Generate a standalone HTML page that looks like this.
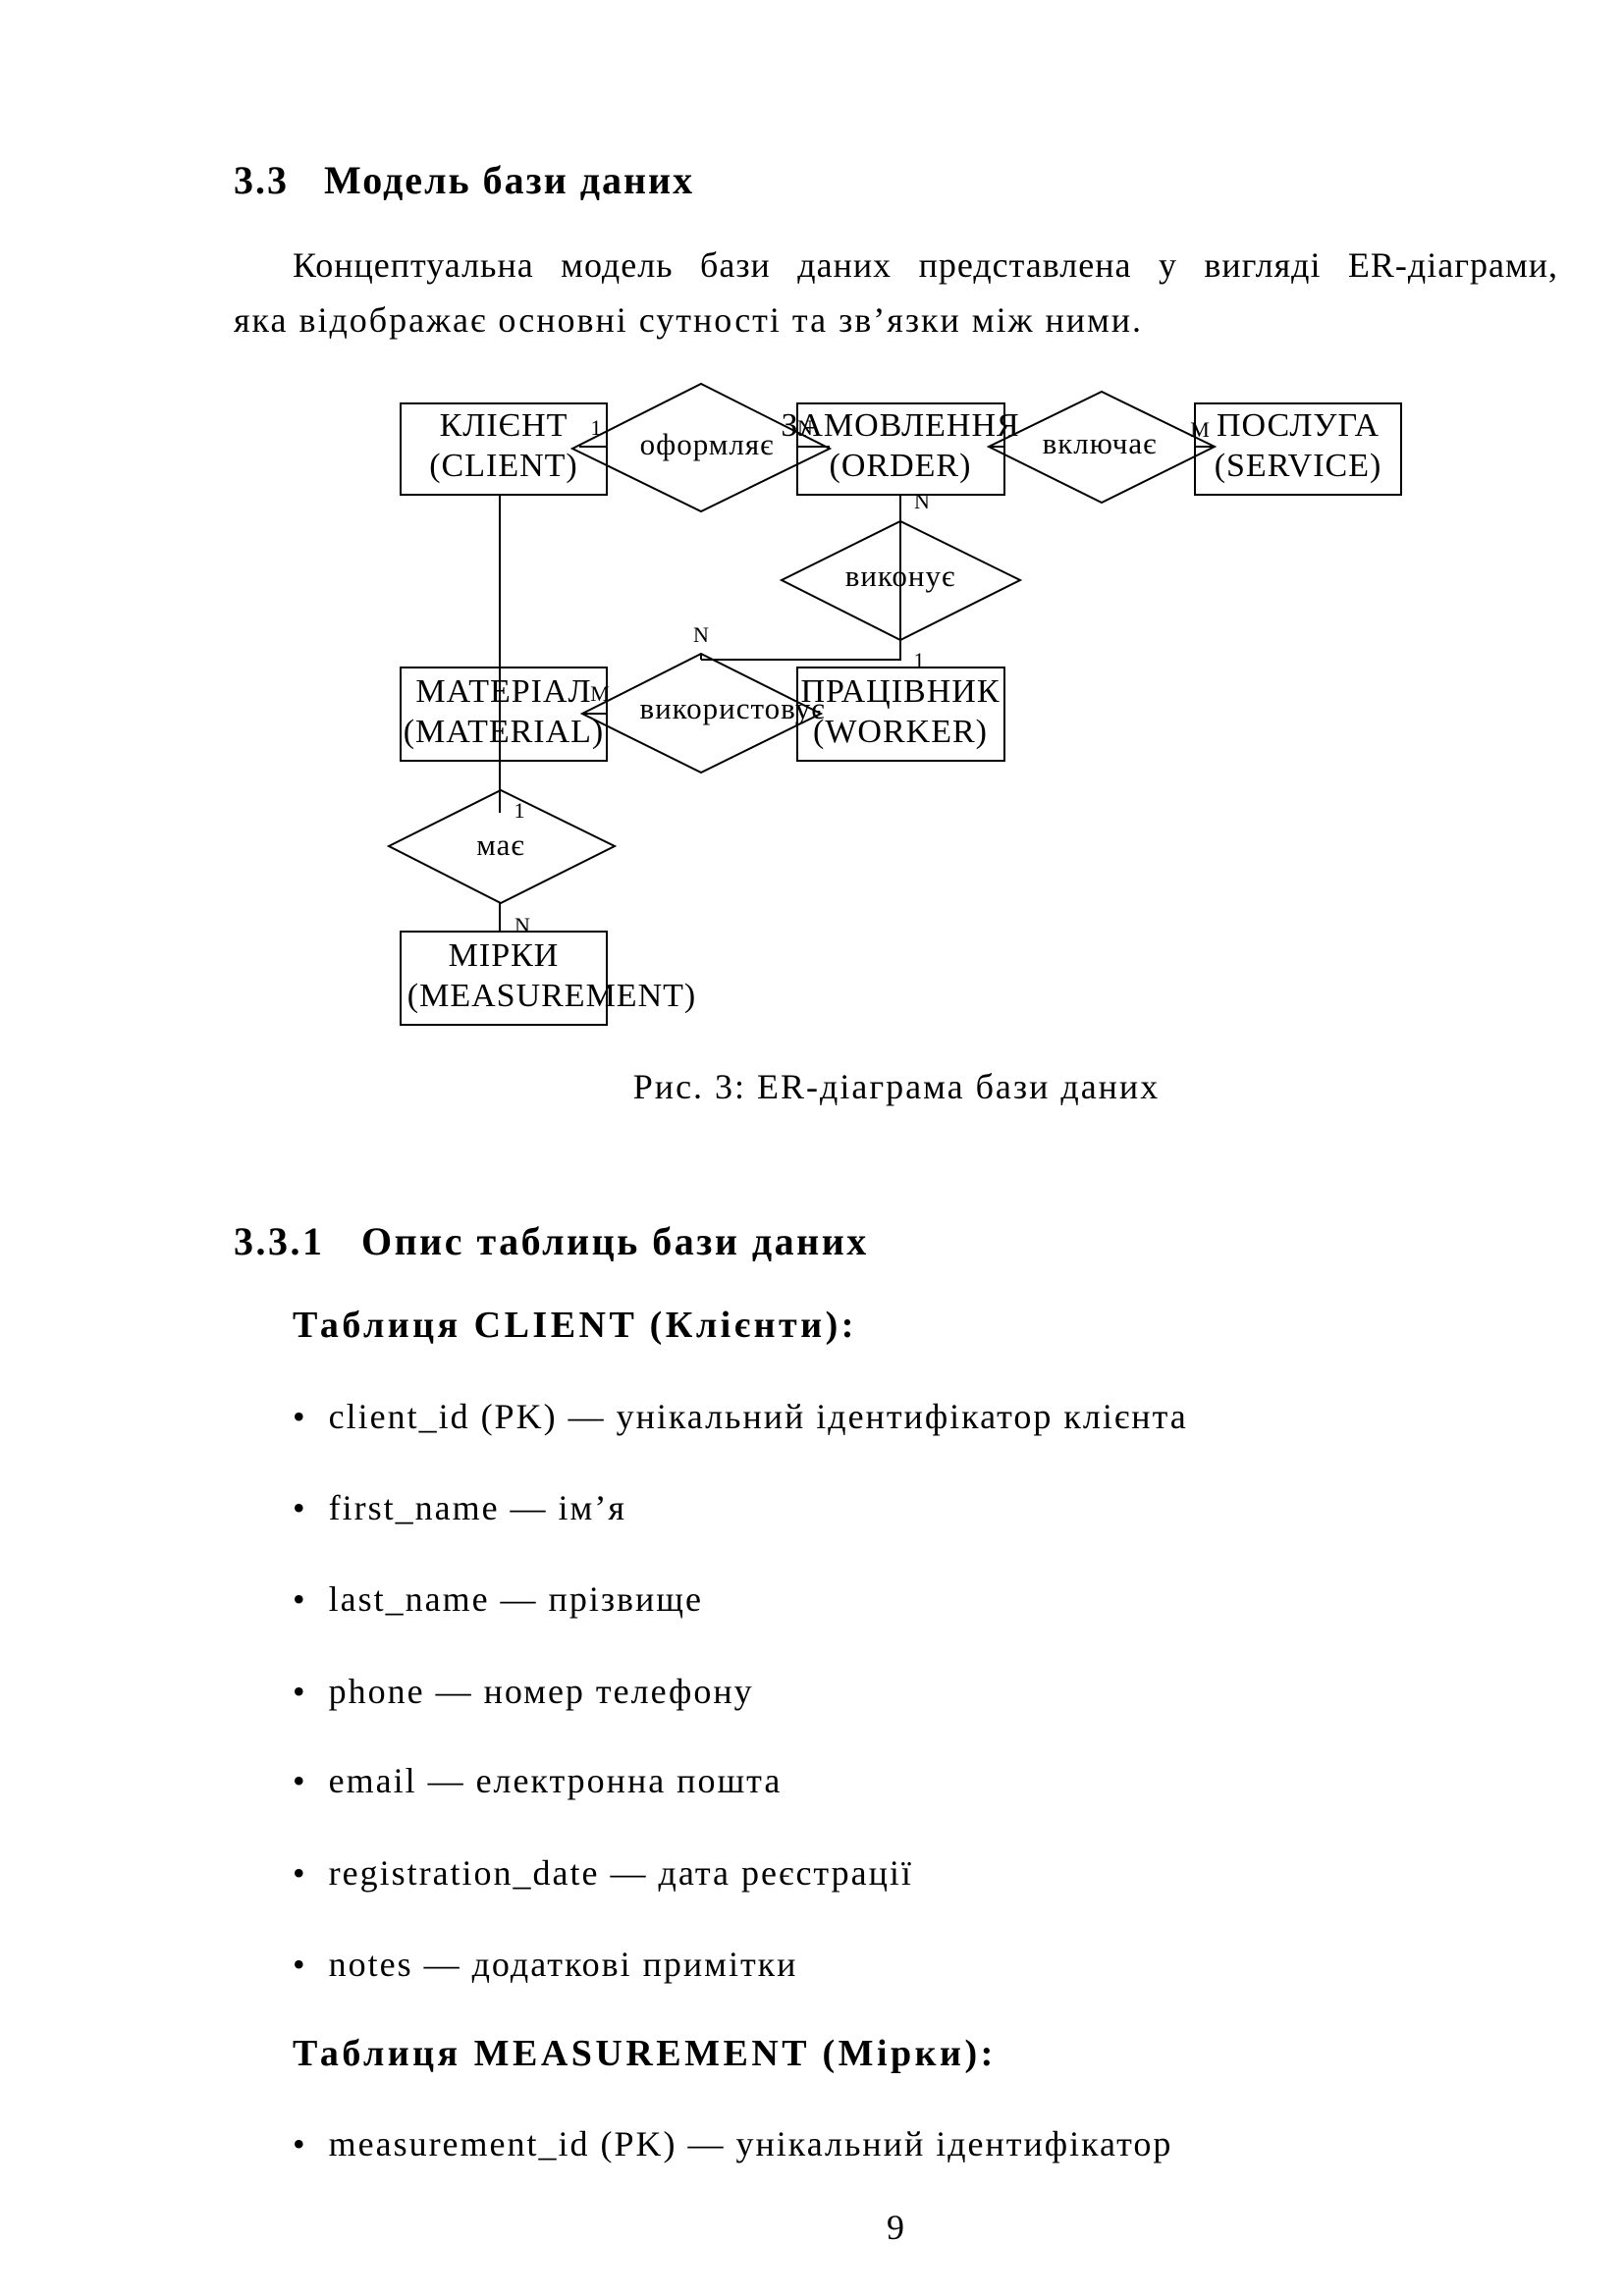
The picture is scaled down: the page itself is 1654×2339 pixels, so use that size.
<!DOCTYPE html>
<html><head><meta charset="utf-8"><style>
body{margin:0;background:#fff;}
#p{position:relative;width:1654px;height:2339px;overflow:hidden;font-family:"Liberation Serif","Noto Serif CJK SC",serif;color:#000;}
.t{position:absolute;white-space:nowrap;font-size:36px;line-height:36px;letter-spacing:2px;}
.b{font-weight:bold;font-size:38px;line-height:38px;letter-spacing:3.5px;}
svg text{font-family:"Liberation Serif",serif;}
</style></head><body><div id="p">
<div class="t b" style="left:238px;top:164px;font-size:40px;line-height:40px;letter-spacing:2px;">3.3&nbsp;&nbsp;&nbsp;Модель бази даних</div>
<div class="t" style="left:298px;top:252px;width:1289px;text-align:justify;text-align-last:justify;letter-spacing:1px;">Концептуальна модель бази даних представлена у вигляді ER-діаграми,</div>
<div class="t" style="left:238px;top:308px;">яка відображає основні сутності та зв’язки між ними.</div>

<svg style="position:absolute;left:0;top:0" width="1654" height="1100" stroke="#000" stroke-width="2" fill="none">
<rect x="408" y="411" width="210" height="93"/>
<rect x="812" y="411" width="211" height="93"/>
<rect x="1217" y="411" width="210" height="93"/>
<rect x="408" y="680" width="210" height="95"/>
<rect x="812" y="680" width="211" height="95"/>
<rect x="408" y="949" width="210" height="95"/>
<polygon points="583,457 714,391 845,457 714,521"/>
<polygon points="1007,455 1122,399 1237,455 1122,512"/>
<polygon points="796,591 917,531 1039,591 917,652"/>
<polygon points="593,727 714,666 836,727 714,787"/>
<polygon points="396,862 510,805 626,862 510,920"/>
<line x1="509" y1="504" x2="509" y2="828"/>
<line x1="509" y1="920" x2="509" y2="949"/>
<line x1="917" y1="504" x2="917" y2="673"/>
<line x1="714" y1="672" x2="917" y2="672"/>
<line x1="714" y1="666" x2="714" y2="672"/>
<line x1="590" y1="455" x2="618" y2="455"/>
<line x1="812" y1="455" x2="845" y2="455"/>
<line x1="1007" y1="455" x2="1023" y2="455"/>
<line x1="1217" y1="455" x2="1237" y2="455"/>
<line x1="593" y1="727" x2="618" y2="727"/>
<g stroke="none" fill="#000" font-size="34" letter-spacing="1" text-anchor="middle">
<text x="513" y="444">КЛІЄНТ</text><text x="513" y="485">(CLIENT)</text>
<text x="917" y="444">ЗАМОВЛЕННЯ</text><text x="917" y="485">(ORDER)</text>
<text x="1322" y="444">ПОСЛУГА</text><text x="1322" y="485">(SERVICE)</text>
<text x="513" y="715">МАТЕРІАЛ</text><text x="513" y="756">(MATERIAL)</text>
<text x="917" y="715">ПРАЦІВНИК</text><text x="917" y="756">(WORKER)</text>
<text x="513" y="984">МІРКИ</text><text x="562" y="1025">(MEASUREMENT)</text>
</g>
<g stroke="none" fill="#000" font-size="31" letter-spacing="1" text-anchor="middle">
<text x="720" y="463">оформляє</text>
<text x="1120" y="462">включає</text>
<text x="917" y="597">виконує</text>
<text x="746" y="732">використовує</text>
<text x="510" y="871">має</text>
</g>
<g stroke="none" fill="#000" font-size="22" text-anchor="middle">
<text x="607" y="443">1</text><text x="820" y="443">N</text>
<text x="1222" y="445">M</text><text x="939" y="518">N</text>
<text x="714" y="654">N</text><text x="936" y="680">1</text>
<text x="611" y="714">M</text><text x="529" y="833">1</text>
<text x="532" y="950">N</text>
</g>
</svg>

<div class="t" style="left:0;width:1826px;text-align:center;top:1089px;">Рис. 3: ER-діаграма бази даних</div>
<div class="t b" style="left:238px;top:1245px;font-size:40px;line-height:40px;letter-spacing:2.5px;">3.3.1&nbsp;&nbsp;&nbsp;Опис таблиць бази даних</div>
<div class="t b" style="left:298px;top:1331px;">Таблиця CLIENT (Клієнти):</div>
<div class="t" style="left:298px;top:1425px;">•&nbsp;&nbsp;client_id (PK) — унікальний ідентифікатор клієнта</div>
<div class="t" style="left:298px;top:1518px;">•&nbsp;&nbsp;first_name — ім’я</div>
<div class="t" style="left:298px;top:1611px;">•&nbsp;&nbsp;last_name — прізвище</div>
<div class="t" style="left:298px;top:1705px;">•&nbsp;&nbsp;phone — номер телефону</div>
<div class="t" style="left:298px;top:1796px;">•&nbsp;&nbsp;email — електронна пошта</div>
<div class="t" style="left:298px;top:1890px;">•&nbsp;&nbsp;registration_date — дата реєстрації</div>
<div class="t" style="left:298px;top:1983px;">•&nbsp;&nbsp;notes — додаткові примітки</div>
<div class="t b" style="left:298px;top:2073px;">Таблиця MEASUREMENT (Мірки):</div>
<div class="t" style="left:298px;top:2166px;">•&nbsp;&nbsp;measurement_id (PK) — унікальний ідентифікатор</div>
<div class="t" style="left:0;width:1826px;text-align:center;top:2251px;">9</div>
</div></body></html>
